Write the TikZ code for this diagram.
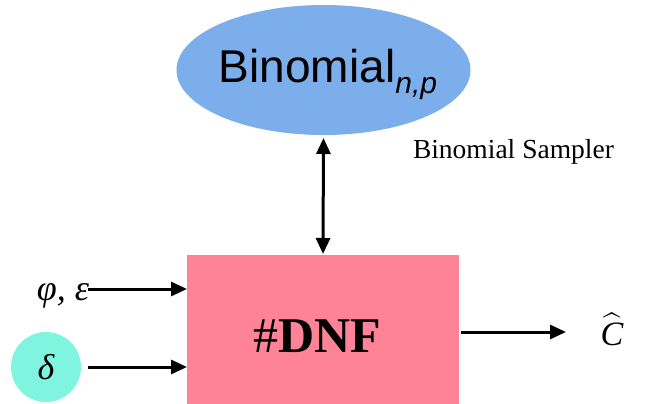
\documentclass[tikz,border=0pt]{standalone}
\usepackage{graphicx}
\usepackage{fontspec}
\setmainfont{Liberation Serif}
\newfontfamily\labelsans{Liberation Sans}
\usetikzlibrary{shapes.geometric,arrows.meta}
\definecolor{sampblue}{RGB}{123,174,235}
\definecolor{dnfpink}{RGB}{255,131,151}
\definecolor{deltacyan}{RGB}{127,245,223}
\newcommand{\hatC}{\scalebox{3.1}{$\widehat{\mbox{\fontsize{11}{12}\selectfont\itshape C}}$}}
\newcommand{\greek}[1]{{\fontsize{36}{40}\selectfont\itshape #1}}
\tikzset{
  flow/.style={line width=3pt,-{Triangle[length=16pt,width=14pt]}},
  flowboth/.style={line width=3pt,{Triangle[length=16pt,width=14pt]}-{Triangle[length=16pt,width=14pt]}},
  plain/.style={inner sep=0pt,outer sep=0pt}
}
\begin{document}
\begin{tikzpicture}[x=1pt,y=-1pt]
\useasboundingbox (0,0) rectangle (646,404);
% sampler oracle
\node[plain,ellipse,fill=sampblue,minimum width=294pt,minimum height=130pt] (samp) at (323.5,70) {};
\node[plain,anchor=base] (samptxt) at (328,83) {\labelsans\fontsize{46}{50}\selectfont Binomial\raisebox{-11pt}{\fontsize{30}{32}\selectfont\itshape n,p}};
\node[plain,anchor=base west] (samplbl) at (413,158) {\fontsize{27.5}{30}\selectfont Binomial Sampler};
% counting box
\node[plain,rectangle,fill=dnfpink,minimum width=272pt,minimum height=150pt] (dnf) at (323,330) {};
\node[plain,anchor=base] (dnftxt) at (317,352) {\fontsize{50}{54}\selectfont\#\textbf{DNF}};
% inputs
\node[plain,anchor=base east] (phieps) at (89,300) {\greek{φ, ε}};
\coordinate (phiend) at (88,289);
\node[plain,circle,fill=deltacyan,minimum size=70pt] (delta) at (46,367) {\greek{δ}};
\coordinate (deltaend) at (88,367);
% output
\node[plain,anchor=base] (chat) at (612,345) {\hatC};
\coordinate (outstart) at (461,332);
\coordinate (outend) at (566,332);
% connectors
\draw[flowboth] (samp.south |- 0,138) -- (dnf.north |- 0,254);
\draw[flow] (phiend) -- (dnf.west |- phiend);
\draw[flow] (deltaend) -- (dnf.west |- deltaend);
\draw[flow] (outstart) -- (outend);
\end{tikzpicture}
\end{document}
